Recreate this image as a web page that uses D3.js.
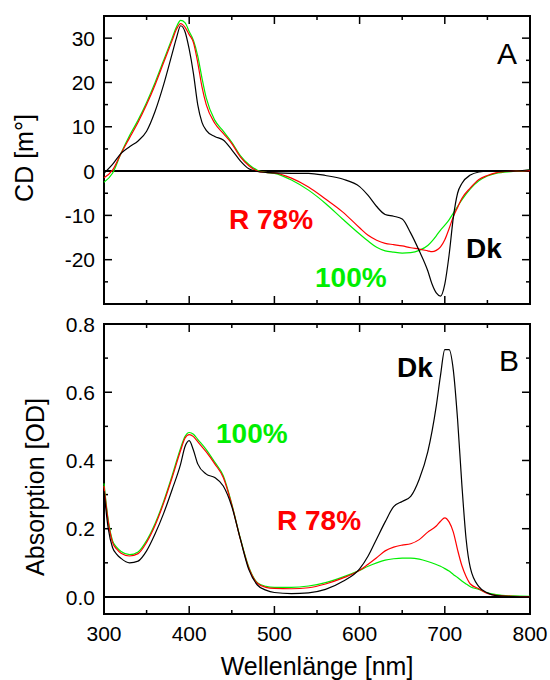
<!DOCTYPE html>
<html>
<head>
<style>
    body { margin: 0; background: #fff; }
    text { font-family: Arial, "Liberation Sans", sans-serif; }
    .tick-label { font-size: 21px; }
    .axis-title { font-size: 25px; }
    .tag { font-size: 28px; font-weight: bold; }
    .panel-letter { font-size: 30px; }
</style>
<script src="https://d3js.org/d3.v7.min.js"></script>
<script>
// wavelengths (nm) for the CD panel
var cdWl = [300,310,320,330,340,350,360,370,380,385,390,395,400,405,410,415,420,430,440,450,460,470,480,490,500,520,540,560,580,600,610,620,630,640,650,660,670,680,685,690,695,700,705,710,715,720,730,740,750,760,780,800];
var cdDk = [-0.5,1.5,4,5.5,6.8,9,13.5,19.5,26.5,30,32.8,31.5,27.5,22,15,11,9.2,7.8,7,4.8,2.3,0.5,-0.1,-0.3,-0.4,-0.5,-0.5,-1,-1.8,-3.5,-5.5,-8,-9.8,-10.2,-10.8,-14,-18,-22.5,-25.5,-27.5,-28.2,-25.5,-19,-10.5,-5,-2.8,-0.9,-0.2,0,0,0,0.3];
var cdR78 = [-1.5,0.2,4,7.5,11,15,19.5,24.5,29.5,32,33.3,32.5,30.8,29,24.5,19,15,10.8,8.5,6.2,3.2,1.2,0,-0.3,-0.4,-1.6,-3.6,-6.3,-9.2,-12.8,-14.5,-15.6,-16.3,-16.6,-16.9,-17.3,-17.6,-18,-18.2,-17.9,-17.1,-15.5,-13,-10.3,-8.2,-6.2,-3.8,-1.9,-1,-0.4,0,0.1];
var cd100 = [-2.5,-0.5,4,8,11.5,15.5,20,25,30,32.5,34,33.5,31.5,29.5,26,21,16.5,11.5,9,6.5,3.5,1.5,0.2,-0.3,-0.5,-2,-4.3,-7.3,-10.8,-14.2,-15.8,-17.2,-18,-18.3,-18.5,-18.4,-17.9,-16.8,-15.8,-14.6,-13.3,-12.2,-11,-9.5,-8,-6.5,-4,-2.2,-1.1,-0.5,-0.1,0.2];

// wavelengths (nm) for the absorption panel
var absWl = [300,305,310,315,320,330,340,350,360,370,380,390,395,400,405,410,420,430,440,450,460,470,480,490,500,520,540,560,580,600,610,620,630,640,650,660,670,680,690,695,700,705,710,715,720,725,730,740,750,760,780,800];
var absDk = [0.31,0.2,0.145,0.125,0.113,0.1,0.105,0.135,0.185,0.245,0.315,0.39,0.44,0.458,0.43,0.39,0.36,0.35,0.325,0.265,0.17,0.08,0.035,0.02,0.013,0.01,0.012,0.022,0.045,0.082,0.12,0.17,0.22,0.265,0.28,0.295,0.345,0.425,0.56,0.65,0.725,0.725,0.665,0.52,0.33,0.17,0.085,0.03,0.012,0.004,0.001,0];
var absR78 = [0.325,0.22,0.16,0.14,0.128,0.12,0.127,0.16,0.21,0.275,0.35,0.43,0.465,0.476,0.47,0.455,0.425,0.39,0.35,0.27,0.17,0.085,0.04,0.028,0.025,0.024,0.027,0.038,0.055,0.078,0.096,0.115,0.135,0.146,0.152,0.156,0.168,0.19,0.208,0.222,0.232,0.22,0.19,0.138,0.092,0.06,0.038,0.024,0.01,0.005,0.002,0.001];
var abs100 = [0.333,0.225,0.165,0.145,0.133,0.124,0.132,0.165,0.215,0.28,0.356,0.437,0.47,0.482,0.477,0.462,0.432,0.395,0.355,0.272,0.172,0.087,0.042,0.031,0.028,0.028,0.032,0.042,0.058,0.078,0.09,0.1,0.108,0.112,0.114,0.114,0.111,0.104,0.095,0.09,0.083,0.076,0.066,0.057,0.047,0.038,0.03,0.022,0.012,0.007,0.003,0.002];

var xTicks = [300,400,500,600,700,800];
var cdTicks = [-20,-10,0,10,20,30];
var absTicks = [0.0,0.2,0.4,0.6,0.8];

var colDk = "#000000", colR = "#ff0000", colG = "#00ee00";

function panel(svg, box, yDomain, yMajor, yMinorStep, yFmt, showX) {
    var x = d3.scaleLinear().domain([300, 800]).range([box.left, box.right]);
    var y = d3.scaleLinear().domain(yDomain).range([box.bottom, box.top]);
    var g = svg.append("g");

    // minor / major ticks on all four sides, pointing inward
    var xMinor = d3.range(300, 801, 50);
    var yMinor = d3.range(Math.ceil(yDomain[0] / yMinorStep), Math.floor(yDomain[1] / yMinorStep) + 1)
                   .map(function (k) { return +(k * yMinorStep).toFixed(3); });
    function isMajor(v, list) { return list.some(function (m) { return Math.abs(m - v) < 1e-6; }); }

    xMinor.forEach(function (v) {
        var len = isMajor(v, xTicks) ? 8 : 4;
        g.append("line").attr("x1", x(v)).attr("x2", x(v)).attr("y1", box.bottom).attr("y2", box.bottom - len)
            .attr("stroke", "#000").attr("stroke-width", 1.5);
        g.append("line").attr("x1", x(v)).attr("x2", x(v)).attr("y1", box.top).attr("y2", box.top + len)
            .attr("stroke", "#000").attr("stroke-width", 1.5);
    });
    yMinor.forEach(function (v) {
        var len = isMajor(v, yMajor) ? 8 : 4;
        g.append("line").attr("y1", y(v)).attr("y2", y(v)).attr("x1", box.left).attr("x2", box.left + len)
            .attr("stroke", "#000").attr("stroke-width", 1.5);
        g.append("line").attr("y1", y(v)).attr("y2", y(v)).attr("x1", box.right).attr("x2", box.right - len)
            .attr("stroke", "#000").attr("stroke-width", 1.5);
    });

    // y labels
    g.selectAll(".ylab").data(yMajor).enter().append("text")
        .attr("class", "tick-label")
        .attr("x", box.left - 9)
        .attr("y", function (d) { return y(d); })
        .attr("dy", "0.36em")
        .attr("text-anchor", "end")
        .text(yFmt);

    if (showX) {
        g.selectAll(".xlab").data(xTicks).enter().append("text")
            .attr("class", "tick-label")
            .attr("x", function (d) { return x(d); })
            .attr("y", box.bottom + 27)
            .attr("text-anchor", "middle")
            .text(function (d) { return d; });
    }

    // zero line
    g.append("line").attr("x1", box.left).attr("x2", box.right).attr("y1", y(0)).attr("y2", y(0))
        .attr("stroke", "#000").attr("stroke-width", 2);

    // frame
    g.append("rect").attr("x", box.left).attr("y", box.top)
        .attr("width", box.right - box.left).attr("height", box.bottom - box.top)
        .attr("fill", "none").attr("stroke", "#000").attr("stroke-width", 2);

    return { x: x, y: y, g: g };
}

function drawLine(p, wl, vals, color) {
    var line = d3.line()
        .x(function (d, i) { return p.x(wl[i]); })
        .y(function (d) { return p.y(d); })
        .curve(d3.curveMonotoneX);
    p.g.append("path").datum(vals)
        .attr("d", line)
        .attr("fill", "none")
        .attr("stroke", color)
        .attr("stroke-width", 1.2);
}

function tag(svg, txt, x, y, color, cls) {
    svg.append("text").attr("class", cls).attr("x", x).attr("y", y).attr("fill", color).text(txt);
}

function load() {
    var svg = d3.select("svg");

    // Panel A: CD
    var a = panel(svg, { left: 104, right: 530, top: 16, bottom: 304 }, [-30, 35], cdTicks, 5,
                  function (d) { return d; }, false);
    drawLine(a, cdWl, cd100, colG);
    drawLine(a, cdWl, cdR78, colR);
    drawLine(a, cdWl, cdDk, colDk);

    // Panel B: absorption
    var b = panel(svg, { left: 104, right: 530, top: 324, bottom: 614 }, [-0.05, 0.8], absTicks, 0.1,
                  function (d) { return d.toFixed(1); }, true);
    drawLine(b, absWl, abs100, colG);
    drawLine(b, absWl, absR78, colR);
    drawLine(b, absWl, absDk, colDk);

    // axis titles
    svg.append("text").attr("class", "axis-title")
        .attr("transform", "translate(33,158) rotate(-90)")
        .attr("text-anchor", "middle").text("CD [m°]");
    svg.append("text").attr("class", "axis-title")
        .attr("transform", "translate(44,487) rotate(-90)")
        .attr("text-anchor", "middle").text("Absorption [OD]");
    svg.append("text").attr("class", "axis-title")
        .attr("x", 317).attr("y", 675)
        .attr("text-anchor", "middle").text("Wellenlänge [nm]");

    // panel letters and curve tags
    tag(svg, "A", 497, 64, "#000", "panel-letter");
    tag(svg, "B", 499, 371, "#000", "panel-letter");

    tag(svg, "R 78%", 229, 229, colR, "tag");
    tag(svg, "100%", 315, 287, colG, "tag");
    tag(svg, "Dk", 466, 258, colDk, "tag");

    tag(svg, "Dk", 397, 377, colDk, "tag");
    tag(svg, "100%", 216, 443, colG, "tag");
    tag(svg, "R 78%", 277, 530, colR, "tag");
}
</script>
</head>
<body onload="load()">
    <svg width="550" height="680"></svg>
</body>
</html>
